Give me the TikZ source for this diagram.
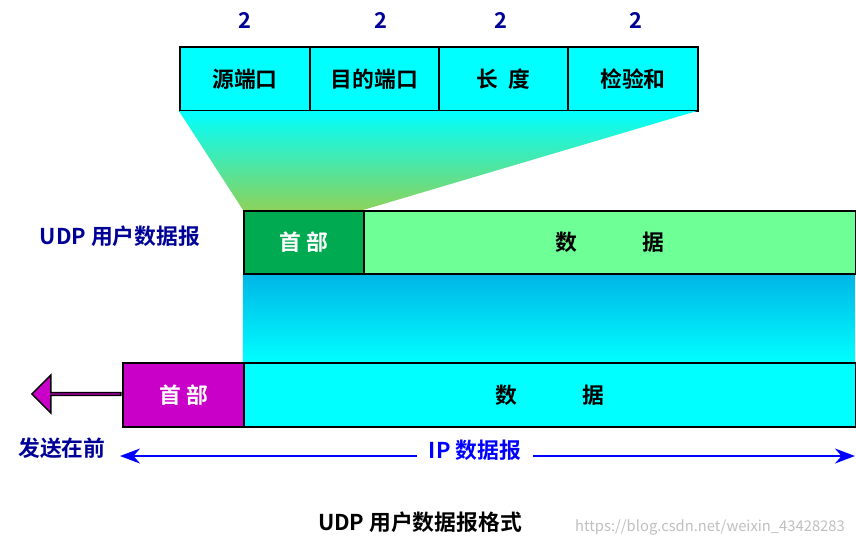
\documentclass[tikz,border=0pt]{standalone}
\usepackage{fontspec}
\setmainfont{Noto Sans CJK SC}[BoldFont=Noto Sans CJK SC Bold]
\usetikzlibrary{arrows.meta, positioning, shapes.arrows}
\definecolor{darkblue}{RGB}{0,0,150}
\definecolor{boxcyan}{RGB}{0,255,255}
\definecolor{hdrgreen}{RGB}{0,170,80}
\definecolor{datagreen}{RGB}{110,255,150}
\definecolor{ipmagenta}{RGB}{200,0,200}
\definecolor{ipblue}{RGB}{0,180,230}
\definecolor{olivegreen}{RGB}{140,210,90}
\newcommand{\lbl}{\fontsize{6.2}{7}\selectfont\bfseries}
\begin{document}
\begin{tikzpicture}[x=0.01cm, y=-0.01cm, >=Stealth,
    field/.style={draw, semithick, fill=boxcyan, minimum height=0.64cm, inner sep=0pt, font=\lbl, anchor=north west},
    size/.style={text=darkblue, font=\lbl}]
  \useasboundingbox (0,0) rectangle (856,547);

  % Field sizes
  \foreach \x in {245,381,501,636}
    \node[size] at (\x,20) {2};

  % UDP header fields
  \node[field, minimum width=1.30cm] (src) at (179,46) {源端口};
  \node[field, minimum width=1.29cm] (dst) at (309,46) {目的端口};
  \node[field, minimum width=1.29cm] (len) at (438,46) {长\ \ 度};
  \node[field, minimum width=1.30cm] (chk) at (567,46) {检验和};

  % Expansion shading
  \shade[top color=boxcyan, bottom color=olivegreen] (179,111) -- (697,111) -- (363,210) -- (243,210) -- cycle;
  \shade[top color=ipblue, bottom color=boxcyan] (243,273) rectangle (855,362);

  % UDP datagram
  \node[field, fill=hdrgreen, text=white, minimum width=1.20cm, minimum height=0.63cm] (uhdr) at (243,210) {首\ 部};
  \node[field, fill=datagreen, minimum width=4.92cm, minimum height=0.63cm] (udata) at (363,210) {数\hspace{3em}据};
  \node[text=darkblue, font=\lbl] at (120,236) {UDP 用户数据报};

  % IP datagram
  \node[field, fill=ipmagenta, text=white, minimum width=1.21cm] (ihdr) at (122,362) {首\ 部};
  \node[field, minimum width=6.12cm] (idata) at (243,362) {数\hspace{3em}据};
  \node[single arrow, draw=black, thin, fill=ipmagenta, shape border rotate=180, minimum width=0.38cm,
        single arrow head extend=0.09cm, minimum height=0.89cm, inner sep=0pt] (send) at (77,394) {};
  \node[text=darkblue, font=\lbl] (first) at (62,448) {发送在前};

  % IP datagram span
  \coordinate (spanl) at (120,456);
  \coordinate (spanr) at (855,456);
  \draw[<->, semithick, blue] (spanl) -- (spanr);
  \node[fill=white, text=blue, font=\lbl] at (475,450) {IP 数据报};

  % Caption
  \node[font=\lbl] at (420,522) {UDP 用户数据报格式};
  \node[text=gray!50, font=\fontsize{4.2}{5}\selectfont] at (710,527) {https://blog.csdn.net/weixin\_43428283};
\end{tikzpicture}
\end{document}
